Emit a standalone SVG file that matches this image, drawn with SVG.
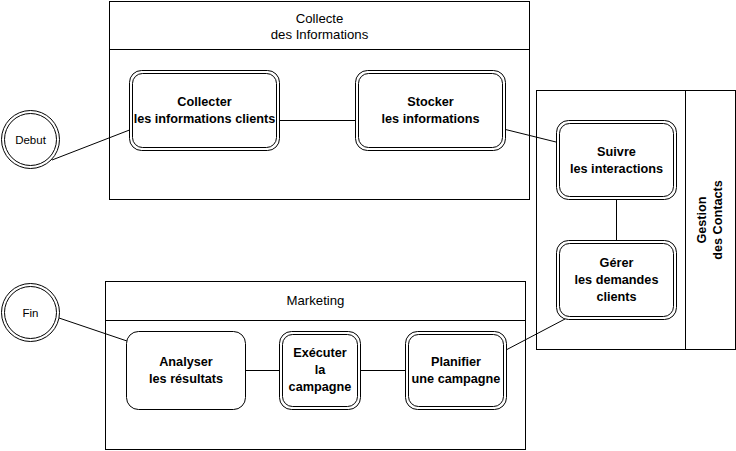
<svg xmlns="http://www.w3.org/2000/svg" width="736" height="451" viewBox="0 0 736 451">
<style>
.pool{fill:#fff;stroke:#000;stroke-width:1}
.task{fill:#fff;stroke:#000;stroke-width:1}
.inner{fill:none;stroke:#000;stroke-width:1}
.edge{fill:none;stroke:#000;stroke-width:1}
.t{font-family:"Liberation Sans",Arial,sans-serif;font-size:12.7px;text-anchor:middle;fill:#000}
.p{font-size:13.2px}
.b{font-weight:bold}
.c{font-size:11.5px}
</style>
<rect width="736" height="451" fill="#fff"/>
<g id="pool-collecte">
<rect class="pool" x="109.5" y="1.5" width="420" height="198"/>
<line class="pool" x1="109.5" y1="49.5" x2="529.5" y2="49.5"/>
<text class="t p" x="319.5" y="23">Collecte</text>
<text class="t p" x="319.5" y="39">des Informations</text>
</g>
<g id="pool-gestion">
<rect class="pool" x="536.5" y="90.5" width="199" height="259"/>
<line class="pool" x1="685.5" y1="90.5" x2="685.5" y2="349.5"/>
<text class="t b" transform="translate(706,220) rotate(-90)">Gestion</text>
<text class="t b" transform="translate(722,220) rotate(-90)">des Contacts</text>
</g>
<g id="pool-marketing">
<rect class="pool" x="105.5" y="281.5" width="420" height="168"/>
<line class="pool" x1="105.5" y1="320.5" x2="525.5" y2="320.5"/>
<text class="t p" x="315.5" y="305">Marketing</text>
</g>
<g id="connectors">
<line class="edge" x1="52" y1="160" x2="129.5" y2="130"/>
<line class="edge" x1="279.5" y1="120.5" x2="355.5" y2="120.5"/>
<line class="edge" x1="505.5" y1="129.5" x2="556" y2="142"/>
<line class="edge" x1="616.5" y1="199.5" x2="616.5" y2="240.5"/>
<line class="edge" x1="565" y1="319" x2="506" y2="350"/>
<line class="edge" x1="59" y1="318" x2="127" y2="341"/>
<line class="edge" x1="245.5" y1="370.5" x2="279.5" y2="370.5"/>
<line class="edge" x1="360.5" y1="370.5" x2="405.5" y2="370.5"/>
</g>
<g id="debut">
<circle class="task" cx="30.5" cy="139.5" r="29"/>
<circle class="inner" cx="30.5" cy="139.5" r="26"/>
<text class="t c" x="30.5" y="143.5">Debut</text>
</g>
<g id="fin">
<circle class="task" cx="30.5" cy="312.5" r="29"/>
<circle class="inner" cx="30.5" cy="312.5" r="26"/>
<text class="t c" x="30.5" y="316.5">Fin</text>
</g>
<g id="collecter">
<rect class="task" x="129.5" y="70.5" width="150" height="80" rx="12"/>
<rect class="inner" x="132.5" y="73.5" width="144" height="74" rx="10"/>
<text class="t b" x="204.5" y="106">Collecter</text>
<text class="t b" x="204.5" y="123">les informations clients</text>
</g>
<g id="stocker">
<rect class="task" x="355.5" y="70.5" width="150" height="80" rx="12"/>
<rect class="inner" x="358.5" y="73.5" width="144" height="74" rx="10"/>
<text class="t b" x="430.5" y="106">Stocker</text>
<text class="t b" x="430.5" y="123">les informations</text>
</g>
<g id="suivre">
<rect class="task" x="556.5" y="120.5" width="120" height="79" rx="12"/>
<rect class="inner" x="559.5" y="123.5" width="114" height="73" rx="10"/>
<text class="t b" x="616.5" y="156">Suivre</text>
<text class="t b" x="616.5" y="173">les interactions</text>
</g>
<g id="gerer">
<rect class="task" x="556.5" y="240.5" width="120" height="79" rx="12"/>
<rect class="inner" x="559.5" y="243.5" width="114" height="73" rx="10"/>
<text class="t b" x="616.5" y="267">Gérer</text>
<text class="t b" x="616.5" y="284">les demandes</text>
<text class="t b" x="616.5" y="301">clients</text>
</g>
<g id="analyser">
<rect class="task" x="126.5" y="331.5" width="119" height="78" rx="12"/>
<text class="t b" x="186" y="366">Analyser</text>
<text class="t b" x="186" y="383">les résultats</text>
</g>
<g id="executer">
<rect class="task" x="279.5" y="331.5" width="81" height="78" rx="12"/>
<rect class="inner" x="282.5" y="334.5" width="75" height="72" rx="10"/>
<text class="t b" x="320" y="357">Exécuter</text>
<text class="t b" x="320" y="374">la</text>
<text class="t b" x="320" y="391">campagne</text>
</g>
<g id="planifier">
<rect class="task" x="405.5" y="331.5" width="101" height="78" rx="12"/>
<rect class="inner" x="408.5" y="334.5" width="95" height="72" rx="10"/>
<text class="t b" x="456" y="366">Planifier</text>
<text class="t b" x="456" y="383">une campagne</text>
</g>
</svg>
